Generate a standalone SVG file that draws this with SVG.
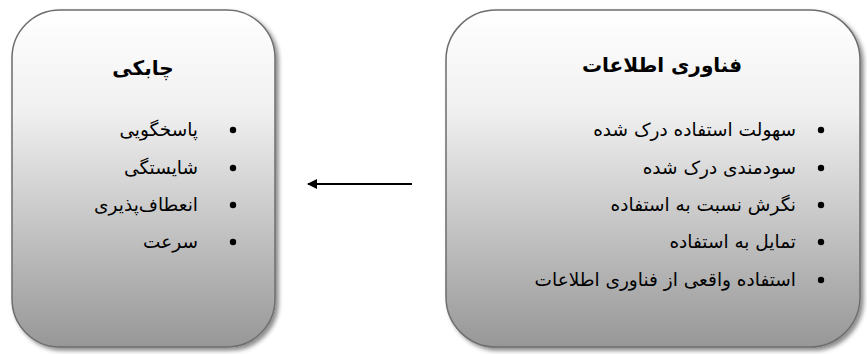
<svg xmlns="http://www.w3.org/2000/svg" width="867" height="354" viewBox="0 0 867 354">
<defs>
<linearGradient id="g" x1="0" y1="0" x2="0" y2="1">
<stop offset="0" stop-color="#ffffff"/>
<stop offset="0.3" stop-color="#f0f0f0"/>
<stop offset="1" stop-color="#979797"/>
</linearGradient>
<filter id="sh" x="-5%" y="-5%" width="115%" height="115%">
<feDropShadow dx="3" dy="3" stdDeviation="2" flood-color="#000" flood-opacity="0.45"/>
</filter>
<marker id="ah" viewBox="0 0 10 10" refX="9" refY="5" markerWidth="5" markerHeight="5" orient="auto">
<path d="M0,0 L10,5 L0,10 z" fill="#000"/>
</marker>
</defs>
<style>
.box{fill:url(#g);stroke:#6e6e6e;stroke-width:1.5;filter:url(#sh)}
.t{font-family:"DejaVu Sans","Noto Sans",sans-serif;fill:#000}
.title{font-size:20px;font-weight:bold;text-anchor:middle}
.item{font-size:18.5px;text-anchor:end}
.dot{fill:#000}
</style>
<g id="agility">
<rect class="box" x="12" y="10" width="263" height="337" rx="48" ry="48"/>
<text class="t title" x="143" y="75">چابکی</text>
<circle class="dot" cx="233" cy="130" r="3.2"/>
<text class="t item" x="198" y="136">پاسخگویی</text>
<circle class="dot" cx="233" cy="168" r="3.2"/>
<text class="t item" x="198" y="174">شایستگی</text>
<circle class="dot" cx="233" cy="205" r="3.2"/>
<text class="t item" x="198" y="211">انعطاف‌پذیری</text>
<circle class="dot" cx="233" cy="242" r="3.2"/>
<text class="t item" x="198" y="248">سرعت</text>
</g>
<g id="it">
<rect class="box" x="446" y="10" width="414" height="337" rx="50" ry="50"/>
<text class="t title" x="662" y="72">فناوری اطلاعات</text>
<circle class="dot" cx="821" cy="130" r="3.2"/>
<text class="t item" x="796" y="136">سهولت استفاده درک شده</text>
<circle class="dot" cx="821" cy="168" r="3.2"/>
<text class="t item" x="796" y="174">سودمندی درک شده</text>
<circle class="dot" cx="821" cy="205" r="3.2"/>
<text class="t item" x="796" y="211">نگرش نسبت به استفاده</text>
<circle class="dot" cx="821" cy="242" r="3.2"/>
<text class="t item" x="796" y="248">تمایل به استفاده</text>
<circle class="dot" cx="821" cy="280" r="3.2"/>
<text class="t item" x="796" y="286">استفاده واقعی از فناوری اطلاعات</text>
</g>
<g id="connectors">
<line x1="412" y1="184" x2="308" y2="184" stroke="#000" stroke-width="2" marker-end="url(#ah)"/>
</g>
</svg>
